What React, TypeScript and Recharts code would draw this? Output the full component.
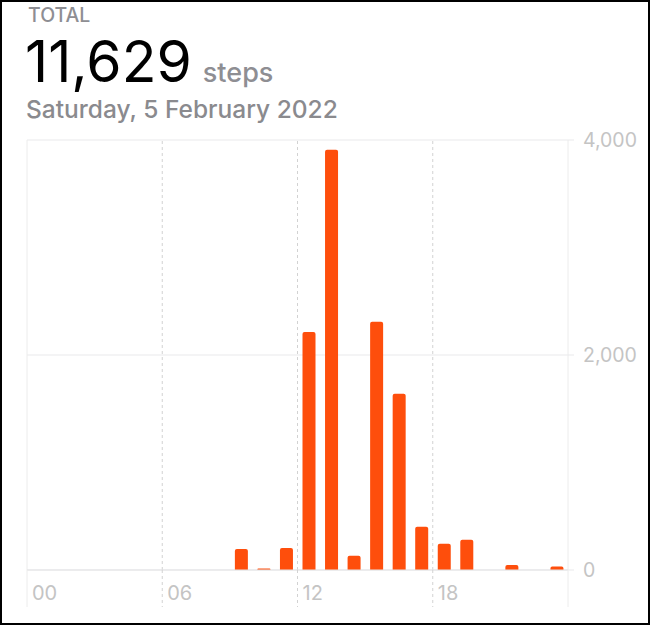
import React from 'react';
import { BarChart, Bar, XAxis, YAxis, CartesianGrid, ReferenceLine } from 'recharts';

// hourly step counts, Saturday 5 February 2022
const hours = [0, 1, 2, 3, 4, 5, 6, 7, 8, 9, 10, 11, 12, 13, 14, 15, 16, 17, 18, 19, 20, 21, 22, 23];
const steps = [0, 0, 0, 0, 0, 0, 0, 0, 0, 195, 15, 205, 2214, 3910, 132, 2310, 1640, 402, 245, 282, 0, 47, 0, 32];
const xTicks = [0, 6, 12, 18, 24];
const xTickLabels = ['00', '06', '12', '18', ''];
const yTicks = [0, 2000, 4000];

const data = hours.map((h, i) => ({ x: h + 0.5, steps: steps[i] }));
const total = steps.reduce((a, b) => a + b, 0);

const FONT = 'Inter, "Noto Sans", sans-serif';
const ORANGE = '#FE4E0C';

const HourTick = (props: any) => {
  const { x, y, payload } = props;
  const i = xTicks.indexOf(payload.value);
  const edge = payload.value === 0 || payload.value === 24;
  return (
    <g>
      <line
        x1={x}
        x2={x}
        y1={y}
        y2={y + 37}
        stroke={edge ? '#ececec' : '#d2d2d2'}
        strokeDasharray={edge ? undefined : '3 3'}
      />
      <text x={x + 5} y={y + 30} fill="#c4c4c4" fontSize={20} fontFamily={FONT}>
        {xTickLabels[i]}
      </text>
    </g>
  );
};

const App = () => {
  return (
    <div style={{ position: 'absolute', left: 0, top: 0, width: 650, height: 625, background: '#fff' }}>
      <svg width={650} height={130} style={{ position: 'absolute', left: 0, top: 0 }}>
        <text x={28} y={21.7} fontSize={19.5} fill="#8e8e93" fontWeight={500} fontFamily={FONT}>TOTAL</text>
        <text x={25} y={81.7} fontSize={57} fill="#000" fontFamily={FONT}>
          {total.toLocaleString('en-US')}
          <tspan dx={11} fontSize={27} fill="#8e8e93" fontWeight={500}>steps</tspan>
        </text>
        <text x={26} y={118} fontSize={24.5} fill="#8a8a8e" fontWeight={500} fontFamily={FONT}>
          Saturday, 5 February 2022
        </text>
      </svg>
      <div style={{ position: 'absolute', left: 0, top: 0 }}>
        <BarChart width={650} height={625} data={data} margin={{ top: 140, left: 27, right: 0, bottom: 18 }}>
          <CartesianGrid vertical={false} stroke="#e9e9eb" />
          <ReferenceLine x={0} stroke="#ececec" />
          <ReferenceLine x={24} stroke="#ececec" />
          <ReferenceLine x={6} stroke="#d2d2d2" strokeDasharray="3 3" />
          <ReferenceLine x={12} stroke="#d2d2d2" strokeDasharray="3 3" />
          <ReferenceLine x={18} stroke="#d2d2d2" strokeDasharray="3 3" />
          <XAxis
            dataKey="x"
            type="number"
            domain={[0, 24]}
            ticks={xTicks}
            height={37}
            tickSize={0}
            tickMargin={0}
            tickLine={false}
            axisLine={{ stroke: '#e3e3e5' }}
            tick={<HourTick />}
            interval={0}
          />
          <YAxis
            orientation="right"
            domain={[0, 4000]}
            ticks={yTicks}
            width={82}
            axisLine={false}
            tickLine={{ stroke: '#e9e9eb' }}
            tickSize={6}
            tickMargin={9}
            tickFormatter={(v: number) => v.toLocaleString('en-US')}
            tick={{ fill: '#c4c4c4', fontSize: 19.5, fontFamily: FONT }}
          />
          <Bar dataKey="steps" fill={ORANGE} barSize={13} radius={[2, 2, 0, 0]} isAnimationActive={false} />
        </BarChart>
      </div>
      <div
        style={{
          position: 'absolute',
          left: 0,
          top: 0,
          width: 650,
          height: 625,
          boxSizing: 'border-box',
          border: '2px solid #000',
          pointerEvents: 'none',
        }}
      />
    </div>
  );
};

export default App;
